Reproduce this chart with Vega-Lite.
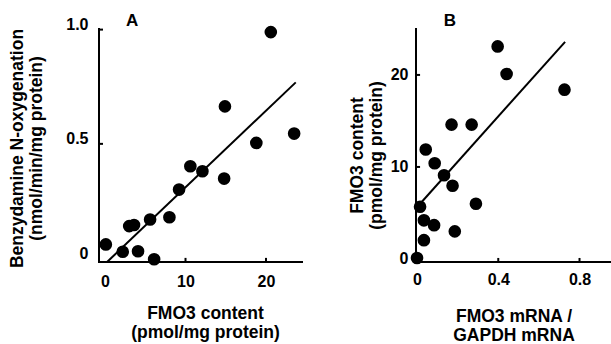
{
  "$schema": "https://vega.github.io/schema/vega-lite/v6.json",
  "background": "white",
  "padding": {"left": 8, "top": 12, "right": 0, "bottom": 0},
  "bounds": "flush",
  "spacing": 113,
  "datasets": {
    "pointsA": [
      {"fmo3": 0.1, "nox": 0.06},
      {"fmo3": 2.2, "nox": 0.028},
      {"fmo3": 4.1, "nox": 0.03},
      {"fmo3": 6.1, "nox": -0.005},
      {"fmo3": 3.0, "nox": 0.14},
      {"fmo3": 3.6, "nox": 0.145},
      {"fmo3": 5.6, "nox": 0.169},
      {"fmo3": 8.0, "nox": 0.179},
      {"fmo3": 9.2, "nox": 0.30},
      {"fmo3": 10.6, "nox": 0.402},
      {"fmo3": 12.1, "nox": 0.38},
      {"fmo3": 14.8, "nox": 0.348},
      {"fmo3": 14.9, "nox": 0.664},
      {"fmo3": 18.8, "nox": 0.504},
      {"fmo3": 20.6, "nox": 0.989},
      {"fmo3": 23.5, "nox": 0.545}
    ],
    "lineA": [
      {"fmo3": 0.25, "nox": -0.017},
      {"fmo3": 23.7, "nox": 0.769}
    ],
    "frameA": [
      {"seg": "axes", "i": 0, "fmo3": -0.75, "nox": 1.007},
      {"seg": "axes", "i": 1, "fmo3": -0.75, "nox": -0.017},
      {"seg": "axes", "i": 2, "fmo3": 24.6, "nox": -0.017},
      {"seg": "y05", "i": 0, "fmo3": -0.75, "nox": 0.5},
      {"seg": "y05", "i": 1, "fmo3": -0.25, "nox": 0.5},
      {"seg": "y10", "i": 0, "fmo3": -0.75, "nox": 1.0},
      {"seg": "y10", "i": 1, "fmo3": -0.25, "nox": 1.0},
      {"seg": "x10", "i": 0, "fmo3": 10, "nox": -0.017},
      {"seg": "x10", "i": 1, "fmo3": 10, "nox": 0.001},
      {"seg": "x20", "i": 0, "fmo3": 20, "nox": -0.017},
      {"seg": "x20", "i": 1, "fmo3": 20, "nox": 0.001}
    ],
    "labelA": [
      {"fmo3": 2.6, "nox": 1.014, "panel": "A"}
    ],
    "pointsB": [
      {"mrna": 0.0, "fmo3": 0.1},
      {"mrna": 0.015, "fmo3": 5.67},
      {"mrna": 0.034, "fmo3": 4.2},
      {"mrna": 0.084, "fmo3": 3.67},
      {"mrna": 0.034, "fmo3": 2.04},
      {"mrna": 0.186, "fmo3": 3.0},
      {"mrna": 0.29, "fmo3": 6.0},
      {"mrna": 0.175, "fmo3": 7.96},
      {"mrna": 0.043, "fmo3": 11.9},
      {"mrna": 0.087, "fmo3": 10.4},
      {"mrna": 0.133, "fmo3": 9.1},
      {"mrna": 0.17, "fmo3": 14.6},
      {"mrna": 0.269, "fmo3": 14.6},
      {"mrna": 0.397, "fmo3": 23.1},
      {"mrna": 0.441, "fmo3": 20.1},
      {"mrna": 0.726, "fmo3": 18.4}
    ],
    "lineB": [
      {"mrna": 0.002, "fmo3": 5.67},
      {"mrna": 0.729, "fmo3": 23.6}
    ],
    "frameB": [
      {"seg": "axes", "i": 0, "mrna": -0.005, "fmo3": 25.1},
      {"seg": "axes", "i": 1, "mrna": -0.005, "fmo3": -0.33},
      {"seg": "axes", "i": 2, "mrna": 0.955, "fmo3": -0.33},
      {"seg": "y10", "i": 0, "mrna": -0.005, "fmo3": 10},
      {"seg": "y10", "i": 1, "mrna": 0.015, "fmo3": 10},
      {"seg": "y20", "i": 0, "mrna": -0.005, "fmo3": 20},
      {"seg": "y20", "i": 1, "mrna": 0.015, "fmo3": 20},
      {"seg": "x04", "i": 0, "mrna": 0.4, "fmo3": -0.33},
      {"seg": "x04", "i": 1, "mrna": 0.4, "fmo3": 0.11},
      {"seg": "x08", "i": 0, "mrna": 0.8, "fmo3": -0.33},
      {"seg": "x08", "i": 1, "mrna": 0.8, "fmo3": 0.11}
    ],
    "labelB": [
      {"mrna": 0.132, "fmo3": 25.29, "panel": "B"}
    ]
  },
  "config": {
    "font": "Liberation Sans",
    "view": {"stroke": null},
    "axis": {
      "grid": false,
      "domain": false,
      "ticks": false,
      "labelFont": "Liberation Sans",
      "labelFontSize": 16,
      "labelFontWeight": "bold",
      "labelColor": "black",
      "titleFont": "Liberation Sans",
      "titleFontSize": 17.5,
      "titleFontWeight": "bold",
      "titleColor": "black",
      "titleLineHeight": 19
    }
  },
  "hconcat": [
    {
      "width": 204,
      "height": 234,
      "layer": [
        {
          "data": {"name": "pointsA"},
          "mark": {"type": "circle", "size": 160, "color": "black", "opacity": 1},
          "encoding": {
            "x": {
              "field": "fmo3", "type": "quantitative",
              "scale": {"domain": [-0.75, 24.6], "nice": false, "zero": false},
              "axis": {
                "values": [0, 10, 20],
                "labelPadding": 11,
                "titlePadding": 15,
                "titleX": 106,
                "title": ["FMO3 content", "(pmol/mg protein)"]
              }
            },
            "y": {
              "field": "nox", "type": "quantitative",
              "scale": {"domain": [-0.017, 1.007], "nice": false, "zero": false},
              "axis": {
                "values": [0, 0.5, 1],
                "labelExpr": "datum.value == 0 ? '0' : format(datum.value, '.1f')",
                "labelPadding": 11,
                "labelBaseline": "alphabetic",
                "titlePadding": 20,
                "titleY": 120,
                "title": ["Benzydamine N-oxygenation", "(nmol/min/mg protein)"]
              }
            }
          }
        },
        {
          "data": {"name": "frameA"},
          "mark": {"type": "line", "color": "black", "strokeWidth": 2},
          "encoding": {
            "x": {"field": "fmo3", "type": "quantitative"},
            "y": {"field": "nox", "type": "quantitative"},
            "detail": {"field": "seg"},
            "order": {"field": "i", "type": "quantitative"}
          }
        },
        {
          "data": {"name": "lineA"},
          "mark": {"type": "line", "color": "black", "strokeWidth": 2},
          "encoding": {
            "x": {"field": "fmo3", "type": "quantitative"},
            "y": {"field": "nox", "type": "quantitative"}
          }
        },
        {
          "data": {"name": "labelA"},
          "mark": {"type": "text", "align": "left", "baseline": "alphabetic", "fontSize": 17, "fontWeight": "bold", "font": "Liberation Sans", "color": "black"},
          "encoding": {
            "x": {"field": "fmo3", "type": "quantitative"},
            "y": {"field": "nox", "type": "quantitative"},
            "text": {"field": "panel"}
          }
        }
      ]
    },
    {
      "width": 195,
      "height": 234,
      "layer": [
        {
          "data": {"name": "pointsB"},
          "mark": {"type": "circle", "size": 160, "color": "black", "opacity": 1},
          "encoding": {
            "x": {
              "field": "mrna", "type": "quantitative",
              "scale": {"domain": [-0.005, 0.955], "nice": false, "zero": false},
              "axis": {
                "values": [0, 0.4, 0.8],
                "labelExpr": "datum.value == 0 ? '0' : format(datum.value, '.1f')",
                "labelPadding": 9,
                "titlePadding": 20,
                "title": ["FMO3 mRNA /", "GAPDH mRNA"]
              }
            },
            "y": {
              "field": "fmo3", "type": "quantitative",
              "scale": {"domain": [-0.33, 25.1], "nice": false, "zero": false},
              "axis": {
                "values": [0, 10, 20],
                "labelPadding": 8,
                "titlePadding": 5,
                "titleY": 127,
                "title": ["FMO3 content", "(pmol/mg protein)"]
              }
            }
          }
        },
        {
          "data": {"name": "frameB"},
          "mark": {"type": "line", "color": "black", "strokeWidth": 2},
          "encoding": {
            "x": {"field": "mrna", "type": "quantitative"},
            "y": {"field": "fmo3", "type": "quantitative"},
            "detail": {"field": "seg"},
            "order": {"field": "i", "type": "quantitative"}
          }
        },
        {
          "data": {"name": "lineB"},
          "mark": {"type": "line", "color": "black", "strokeWidth": 2},
          "encoding": {
            "x": {"field": "mrna", "type": "quantitative"},
            "y": {"field": "fmo3", "type": "quantitative"}
          }
        },
        {
          "data": {"name": "labelB"},
          "mark": {"type": "text", "align": "left", "baseline": "alphabetic", "fontSize": 17, "fontWeight": "bold", "font": "Liberation Sans", "color": "black"},
          "encoding": {
            "x": {"field": "mrna", "type": "quantitative"},
            "y": {"field": "fmo3", "type": "quantitative"},
            "text": {"field": "panel"}
          }
        }
      ]
    }
  ]
}
